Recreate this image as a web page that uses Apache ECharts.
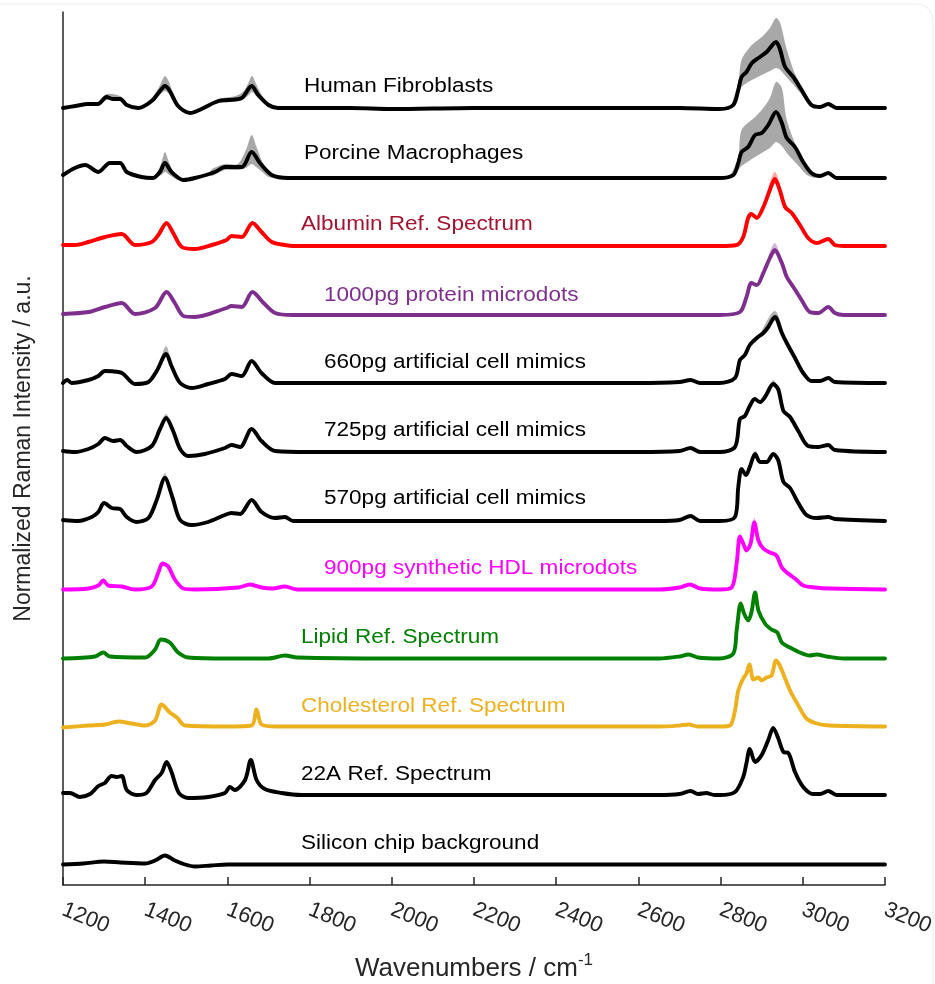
<!DOCTYPE html>
<html>
<head>
<meta charset="utf-8">
<title>Raman spectra</title>
<script src="https://cdn.jsdelivr.net/npm/echarts@6/dist/echarts.min.js"></script>
<style>
  html, body { margin: 0; padding: 0; background: #ffffff; overflow: hidden; }
  #chart { width: 935px; height: 984px; }
</style>
</head>
<body>
<div id="chart"></div>
<script>
// Spectra: [wavenumber (cm-1), relative intensity above the trace baseline]
const fibroblasts = [[1200,0],[1230,2],[1261,4],[1285,4],[1306,11],[1322,9],[1339,9],[1355,3],[1383,0],[1416,7],[1436,17],[1448,22],[1460,17],[1480,2],[1509,-5],[1537,-1],[1578,7],[1602,8],[1635,10],[1659,22],[1675,13],[1700,3],[1723,0],[1800,0],[1900,0],[2000,-1],[2200,0],[2400,0],[2600,0],[2700,0],[2798,-1],[2831,3],[2843,18],[2851,31],[2863,36],[2876,45],[2892,50],[2912,56],[2935,66],[2945,58],[2957,41],[2977,31],[2997,18],[3021,3],[3042,1],[3062,4],[3082,0],[3200,0]];
const macrophages = [[1200,3],[1229,10],[1254,13],[1286,6],[1314,15],[1339,15],[1355,6],[1391,1],[1419,0],[1436,6],[1448,15],[1464,6],[1493,-2],[1521,0],[1570,6],[1594,11],[1635,11],[1659,26],[1679,15],[1708,3],[1748,0],[1900,0],[2100,0],[2300,0],[2500,0],[2700,0],[2798,0],[2831,3],[2843,15],[2851,26],[2867,31],[2884,43],[2900,45],[2916,53],[2935,66],[2949,55],[2961,40],[2981,31],[3001,16],[3021,5],[3042,2],[3062,5],[3082,0],[3200,0]];
const albumin = [[1200,1],[1229,1],[1262,4],[1302,9],[1343,12],[1375,1],[1416,4],[1432,11],[1452,23],[1468,13],[1489,-1],[1521,-3],[1562,1],[1598,6],[1610,10],[1635,9],[1661,23],[1683,14],[1708,4],[1740,1],[1760,0],[2000,0],[2400,0],[2798,0],[2839,1],[2855,9],[2867,28],[2875,32],[2888,28],[2904,39],[2920,56],[2932,67],[2944,56],[2957,39],[2973,33],[2993,21],[3013,8],[3034,3],[3062,7],[3078,1],[3100,0],[3200,0]];
const protein1000 = [[1200,1],[1262,3],[1302,8],[1343,12],[1375,1],[1424,7],[1452,23],[1472,12],[1493,-1],[1521,-2],[1598,7],[1610,9],[1635,8],[1661,23],[1688,12],[1716,2],[1758,0],[2000,0],[2400,0],[2798,0],[2847,3],[2863,18],[2875,32],[2888,30],[2904,42],[2920,57],[2932,65],[2949,52],[2961,38],[2977,28],[2997,15],[3017,3],[3038,2],[3062,8],[3078,2],[3100,0],[3200,0]];
const mimic660 = [[1200,0],[1210,3],[1221,0],[1262,3],[1286,7],[1302,12],[1335,11],[1347,9],[1375,-1],[1408,1],[1428,12],[1451,29],[1464,17],[1485,0],[1513,-5],[1553,-1],[1594,4],[1610,9],[1635,7],[1659,22],[1683,10],[1716,0],[1800,0],[2200,0],[2600,0],[2700,1],[2727,3],[2750,0],[2798,0],[2835,5],[2847,23],[2859,28],[2871,38],[2888,45],[2904,50],[2916,56],[2932,66],[2949,50],[2961,40],[2981,25],[3001,10],[3021,2],[3042,2],[3062,5],[3078,1],[3200,0]];
const mimic725 = [[1200,1],[1229,0],[1262,3],[1286,8],[1302,14],[1322,11],[1339,12],[1355,6],[1379,0],[1416,6],[1436,23],[1451,34],[1468,21],[1485,3],[1505,-4],[1545,-2],[1594,4],[1610,7],[1631,5],[1659,23],[1683,11],[1716,1],[1800,0],[2200,0],[2600,0],[2700,1],[2727,4],[2750,0],[2798,0],[2835,5],[2847,33],[2859,36],[2871,46],[2883,53],[2896,50],[2908,55],[2928,68],[2940,63],[2953,41],[2969,35],[2989,21],[3013,6],[3038,5],[3062,7],[3078,2],[3200,0]];
const mimic570 = [[1200,1],[1237,0],[1270,4],[1286,9],[1300,18],[1319,13],[1339,12],[1355,4],[1379,-1],[1408,3],[1428,21],[1448,43],[1466,24],[1485,1],[1513,-4],[1553,-1],[1594,6],[1610,8],[1631,7],[1659,21],[1683,9],[1716,3],[1740,4],[1760,0],[2000,0],[2400,0],[2650,0],[2700,1],[2727,5],[2750,0],[2798,0],[2835,4],[2843,34],[2851,52],[2862,46],[2871,54],[2884,67],[2896,59],[2912,59],[2928,67],[2940,61],[2953,39],[2969,33],[2989,18],[3009,6],[3034,3],[3062,4],[3078,2],[3200,0]];
const hdl900 = [[1200,0],[1262,1],[1286,4],[1298,9],[1310,4],[1343,3],[1375,0],[1416,3],[1432,17],[1442,26],[1456,23],[1472,10],[1493,1],[1521,0],[1627,2],[1655,5],[1683,2],[1710,1],[1740,3],[1770,0],[2000,0],[2400,0],[2650,0],[2700,2],[2725,5],[2750,1],[2798,0],[2827,2],[2839,26],[2847,53],[2855,46],[2863,39],[2873,46],[2882,67],[2892,49],[2904,41],[2920,37],[2936,34],[2949,22],[2961,17],[2981,11],[3001,4],[3030,2],[3066,1],[3200,0]];
const lipid = [[1200,0],[1278,2],[1298,6],[1314,2],[1400,1],[1424,9],[1438,19],[1460,16],[1480,6],[1505,1],[1600,0],[1700,0],[1740,3],[1770,1],[2000,0],[2400,0],[2650,0],[2700,2],[2722,4],[2745,1],[2798,0],[2831,5],[2839,28],[2849,55],[2857,45],[2867,38],[2875,46],[2884,66],[2892,48],[2908,35],[2924,29],[2938,26],[2949,16],[2969,11],[2993,6],[3017,3],[3034,4],[3058,2],[3100,0],[3200,0]];
const cholesterol = [[1200,-1],[1262,1],[1302,2],[1335,5],[1367,3],[1400,1],[1424,6],[1440,22],[1460,14],[1477,9],[1497,1],[1600,0],[1659,1],[1671,17],[1683,2],[1720,0],[2000,0],[2400,0],[2650,0],[2700,1],[2722,2],[2745,0],[2798,0],[2823,1],[2835,16],[2843,36],[2855,48],[2863,53],[2870,62],[2880,47],[2892,49],[2900,46],[2912,49],[2924,51],[2935,66],[2944,61],[2957,48],[2969,36],[2989,21],[3009,8],[3034,3],[3066,1],[3200,0]];
const peptide22A = [[1200,2],[1217,2],[1241,-2],[1266,1],[1286,9],[1302,12],[1318,19],[1330,18],[1343,19],[1355,5],[1379,0],[1403,2],[1424,15],[1440,22],[1452,33],[1464,23],[1482,2],[1505,-3],[1553,-2],[1594,2],[1606,8],[1618,5],[1643,15],[1657,35],[1671,15],[1691,6],[1732,2],[1780,0],[2000,0],[2400,0],[2650,0],[2700,1],[2727,4],[2745,1],[2765,2],[2785,0],[2798,0],[2835,3],[2855,18],[2863,32],[2871,46],[2884,33],[2900,40],[2916,55],[2928,67],[2940,57],[2953,43],[2965,42],[2981,23],[3001,8],[3025,1],[3042,1],[3062,4],[3082,0],[3200,0]];
const silicon = [[1200,0],[1250,1],[1300,3],[1340,2],[1400,1],[1424,4],[1448,9],[1472,4],[1497,0],[1521,-2],[1560,-1],[1600,0],[1800,0],[2200,0],[2600,0],[3000,0],[3200,0]];

// Spread bands (standard deviation envelopes): [wavenumber, lower, upper]
const fibroBand0 = [[1290,3,6],[1306,8,14],[1339,7,12],[1360,1,3]];
const fibroBand1 = [[1405,4,6],[1420,8,12],[1435,13,22],[1448,17,32],[1458,14,26],[1470,6,12],[1485,-1,2],[1495,-3,-2]];
const fibroBand2 = [[1560,3,6],[1590,6,10],[1620,7,12],[1640,9,17],[1652,13,26],[1660,16,32],[1670,12,24],[1685,6,12],[1700,1,5],[1720,0,1]];
const fibroBand3 = [[2825,0,2],[2843,12,25],[2851,21,48],[2876,28,63],[2900,33,71],[2920,37,80],[2935,40,90],[2945,38,85],[2960,31,60],[2980,22,35],[3000,12,20],[3021,2,5],[3035,0,2]];
const macroBand1 = [[1420,0,1],[1432,2,8],[1440,3,16],[1448,6,26],[1456,4,18],[1466,1,8],[1480,-2,0]];
const macroBand2 = [[1560,2,8],[1594,8,14],[1625,8,14],[1645,10,28],[1659,14,43],[1670,11,32],[1685,6,16],[1700,1,6],[1720,0,1]];
const macroBand3 = [[2825,0,3],[2843,8,20],[2851,12,48],[2884,21,61],[2900,25,68],[2920,30,80],[2935,36,96],[2949,32,90],[2961,25,58],[2990,12,26],[3010,3,12],[3030,0,3]];
const albuminBand = [[2910,45,50],[2932,62,74],[2950,50,53]];
const proteinBand = [[2910,46,51],[2932,61,72],[2950,48,51]];
const mimic660BandA = [[1436,16,22],[1451,26,37],[1464,15,19]];
const mimic660BandB = [[2900,47,52],[2932,62,72],[2955,44,49]];
const mimic725BandA = [[1440,26,31],[1451,31,38],[1462,25,28]];
const mimic725BandB = [[2918,58,63],[2928,65,72],[2940,60,64]];
const mimic570BandA = [[1440,34,40],[1448,41,48],[1456,36,40]];
const mimic570BandB = [[2876,57,62],[2884,64,70],[2892,60,64]];
const hdlBand = [[2874,44,50],[2882,64,72],[2892,47,52]];

const labels = ['Human Fibroblasts','Porcine Macrophages','Albumin Ref. Spectrum','1000pg protein microdots','660pg artificial cell mimics','725pg artificial cell mimics','570pg artificial cell mimics','900pg synthetic HDL microdots','Lipid Ref. Spectrum','Cholesterol Ref. Spectrum','22A Ref. Spectrum','Silicon chip background'];
const traces = [fibroblasts, macrophages, albumin, protein1000, mimic660, mimic725, mimic570, hdl900, lipid, cholesterol, peptide22A, silicon];
const offsets = [777, 707, 639, 570, 502, 433, 364, 295.5, 226.5, 158.5, 90, 20.5];
const xTicks = [1200, 1400, 1600, 1800, 2000, 2200, 2400, 2600, 2800, 3000, 3200];

const lineColors = ['#000000','#000000','#ff0000','#7e2f8e','#000000','#000000','#000000','#ff00ff','#008000','#edb120','#000000','#000000'];
const labelColors = ['#000000','#000000','#a2142f','#7e2f8e','#000000','#000000','#000000','#ff00ff','#008000','#edb120','#000000','#000000'];
const labelPos = [[304,86],[304,153],[301,224],[324,295],[324,362],[324,430],[324,498],[324,568],[301,637],[301,706],[301,774],[301,843]];

const FONT = '"Liberation Sans", Arial, Helvetica, sans-serif';

function bandSeries(band, traceIdx, color) {
  const off = offsets[traceIdx];
  const rows = band.map(([w, lo, hi]) => [w, lo + off, hi + off]);
  return {
    type: 'custom',
    silent: true,
    data: rows,
    encode: { x: 0, y: [1, 2] },
    z: 1,
    renderItem: function (params, api) {
      if (params.dataIndex !== 0) return null;
      const top = rows.map(r => api.coord([r[0], r[2]]));
      const bottom = rows.slice().reverse().map(r => api.coord([r[0], r[1]]));
      return {
        type: 'polygon',
        shape: { points: top.concat(bottom), smooth: 0.3 },
        style: { fill: color, stroke: null }
      };
    }
  };
}

const series = [];
const grey = '#a8a8a8';
[fibroBand0, fibroBand1, fibroBand2, fibroBand3].forEach(b => series.push(bandSeries(b, 0, grey)));
[macroBand1, macroBand2, macroBand3].forEach(b => series.push(bandSeries(b, 1, grey)));
series.push(bandSeries(albuminBand, 2, 'rgba(255,0,0,0.35)'));
series.push(bandSeries(proteinBand, 3, 'rgba(126,47,142,0.35)'));
series.push(bandSeries(mimic660BandA, 4, 'rgba(0,0,0,0.3)'));
series.push(bandSeries(mimic660BandB, 4, 'rgba(0,0,0,0.3)'));
series.push(bandSeries(mimic725BandA, 5, 'rgba(0,0,0,0.3)'));
series.push(bandSeries(mimic725BandB, 5, 'rgba(0,0,0,0.3)'));
series.push(bandSeries(mimic570BandA, 6, 'rgba(0,0,0,0.3)'));
series.push(bandSeries(mimic570BandB, 6, 'rgba(0,0,0,0.3)'));
series.push(bandSeries(hdlBand, 7, 'rgba(255,0,255,0.35)'));

traces.forEach((pts, i) => {
  series.push({
    name: labels[i],
    type: 'line',
    data: pts.map(([w, h]) => [w, h + offsets[i]]),
    showSymbol: false,
    smooth: 0.3,
    z: 3,
    lineStyle: { color: lineColors[i], width: 3.9, join: 'round', cap: 'round' },
    silent: true
  });
});

const graphics = labels.map((t, i) => ({
  type: 'text',
  x: labelPos[i][0],
  y: labelPos[i][1],
  scaleX: 1.1,
  z: 10,
  style: {
    text: t,
    fill: labelColors[i],
    fontSize: 20.5,
    fontFamily: FONT,
    verticalAlign: 'middle',
    align: 'left'
  }
}));
graphics.push({
  type: 'rect',
  z: -10,
  shape: { x: -40, y: 4, width: 973, height: 1020, r: 16 },
  style: { fill: 'none', stroke: '#ececec', lineWidth: 1 }
});

const chart = echarts.init(document.getElementById('chart'), null, { renderer: 'canvas' });
chart.setOption({
  animation: false,
  backgroundColor: '#ffffff',
  grid: { left: 63, right: 50, top: 12, bottom: 99, containLabel: false, outerBoundsMode: 'none' },
  xAxis: {
    type: 'value',
    min: xTicks[0],
    max: xTicks[xTicks.length - 1],
    interval: 200,
    name: 'Wavenumbers / cm{sup|-1}',
    nameLocation: 'middle',
    nameGap: 67,
    nameTextStyle: {
      fontSize: 26, color: '#262626', fontFamily: FONT,
      rich: { sup: { fontSize: 17, color: '#262626', fontFamily: FONT, verticalAlign: 'top', padding: [0, 0, 16, 0] } }
    },
    axisLine: { show: true, lineStyle: { color: '#262626', width: 1.5 } },
    axisTick: { show: true, inside: true, length: 8, lineStyle: { color: '#262626', width: 1.5 } },
    axisLabel: {
      rotate: -22, fontSize: 22, color: '#262626', fontFamily: FONT, margin: 24,
      formatter: v => String(v)
    },
    splitLine: { show: false }
  },
  yAxis: {
    type: 'value',
    min: 0,
    max: 873,
    name: 'Normalized Raman Intensity / a.u.',
    nameLocation: 'middle',
    nameGap: 28,
    nameRotate: 90,
    nameTextStyle: { fontSize: 23, color: '#262626', fontFamily: FONT },
    axisLine: { show: true, lineStyle: { color: '#262626', width: 1.5 } },
    axisTick: { show: false },
    axisLabel: { show: false },
    splitLine: { show: false }
  },
  graphic: graphics,
  series: series
});
</script>
</body>
</html>
